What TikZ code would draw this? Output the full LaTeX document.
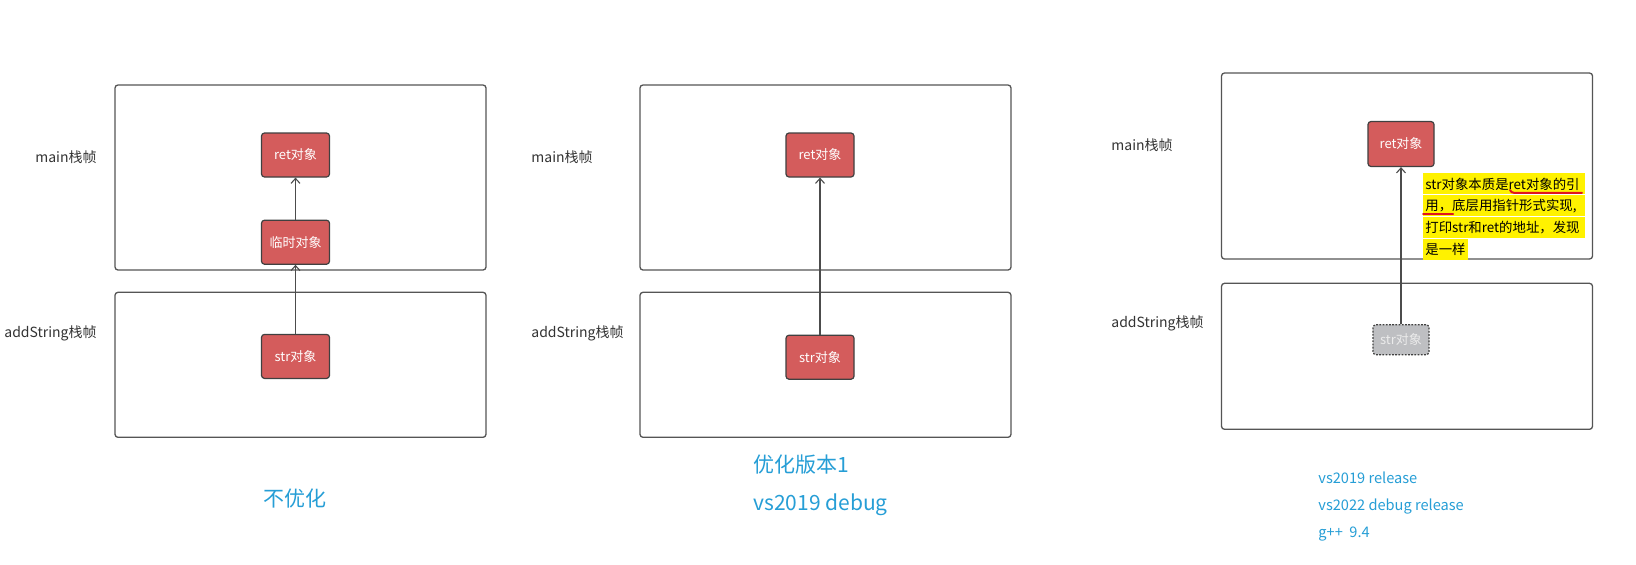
\documentclass[tikz,border=0pt]{standalone}
\usepackage{fontspec}
\setmainfont{Noto Sans CJK SC}
\usetikzlibrary{positioning,arrows.meta}
\definecolor{objred}{RGB}{212,92,92}
\definecolor{frameline}{RGB}{85,85,85}
\definecolor{capblue}{RGB}{38,158,214}
\definecolor{ghost}{RGB}{190,191,194}
\definecolor{markred}{RGB}{225,20,30}
\tikzset{
  frame/.style={draw=frameline, line width=0.65pt, rounded corners=1.5pt, minimum width=185.5pt, inner sep=0pt},
  obj/.style={draw=black!75, fill=objred, line width=0.6pt, rounded corners=1.5pt, minimum width=34pt, minimum height=22pt, inner sep=0pt, text=white, font=\fontsize{6.5}{7}\selectfont},
  ghostobj/.style={obj, fill=ghost, dash pattern=on 0.9pt off 0.7pt, minimum width=28pt, minimum height=15pt, text=white!92!black},
  framelabel/.style={inner sep=0pt, text=black!80, font=\fontsize{7}{8}\selectfont},
  link/.style={draw=black!70, line width=0.55pt, -{Straight Barb[length=2.5pt,width=4.5pt]}},
  hl/.style={fill=yellow, inner xsep=1pt, inner ysep=0pt, minimum height=10.5pt, font=\fontsize{6.7}{7}\selectfont},
  hlfull/.style={hl, text width=79pt, align=left},
  redmark/.style={draw=markred, line width=1pt, line cap=round},
  capbig/.style={inner sep=0pt, text=capblue, font=\fontsize{10.5}{19}\selectfont},
  capsmall/.style={inner sep=0pt, text=capblue, font=\fontsize{7.3}{13.5}\selectfont}
}
\begin{document}
\begin{tikzpicture}[x=0.5pt,y=-0.5pt]
  \useasboundingbox[fill=white] (0,0) rectangle (1636,564);
  % first: no optimisation
  \node[frame, minimum height=92.5pt] (main1) at (300.5,177.5) {};
  \node[frame, minimum height=72.5pt, below=10.5pt of main1] (add1) {};
  \node[framelabel, anchor=east] (lmain1) at (97,157) {main栈帧};
  \node[framelabel, anchor=east] (ladd1) at (97,333) {addString栈帧};
  \node[obj] (ret1) at (295.5,155) {ret对象};
  \node[obj, below=21pt of ret1] (tmp1) {临时对象};
  \node[obj, below=34.5pt of tmp1] (str1) {str对象};
  \draw[link] (str1) -- (tmp1);
  \draw[link] (tmp1) -- (ret1);
  \node[capbig] (cap1) at (295,499) {不优化};

  % second: vs2019 debug
  \node[frame, minimum height=92.5pt] (main2) at (825.5,177.5) {};
  \node[frame, minimum height=72.5pt, below=10.5pt of main2] (add2) {};
  \node[framelabel, anchor=west] (lmain2) at (531,157) {main栈帧};
  \node[framelabel, anchor=west] (ladd2) at (531,333) {addString栈帧};
  \node[obj] (ret2) at (820,155) {ret对象};
  \node[obj, below=78.5pt of ret2] (str2) {str对象};
  \draw[link] (str2) -- (ret2);
  \node[capbig, anchor=west, align=left] (cap2) at (753,485) {优化版本1\\vs2019 debug};

  % third: release builds
  \node[frame, minimum height=93pt] (main3) at (1407,166) {};
  \node[frame, minimum height=73pt, below=11.5pt of main3] (add3) {};
  \node[framelabel, anchor=west] (lmain3) at (1111,145) {main栈帧};
  \node[framelabel, anchor=west] (ladd3) at (1111,323) {addString栈帧};
  \node[obj, minimum width=33pt, minimum height=22.5pt] (ret3) at (1401,144) {ret对象};
  \node[ghostobj, below=78.5pt of ret3] (str3) {str对象};
  \draw[link] (str3) -- (ret3);
  \node[hlfull, anchor=north west] (hl1) at (1423,173) {str对象本质是ret对象的引};
  \node[hlfull, below=0pt of hl1] (hl2) {用，底层用指针形式实现,};
  \node[hlfull, below=0pt of hl2] (hl3) {打印str和ret的地址，发现};
  \node[hl, anchor=north west] (hl4) at (hl3.south west) {是一样};
  \draw[redmark] ([xshift=43.5pt,yshift=2.4pt]hl1.south west) to[out=-70,in=180] ([xshift=45.5pt,yshift=1pt]hl1.south west) -- ([xshift=79.5pt,yshift=1pt]hl1.south west);
  \draw[redmark] ([xshift=0pt,yshift=1.2pt]hl2.south west) -- ([xshift=15pt,yshift=1.2pt]hl2.south west);
  \node[capsmall, anchor=west, align=left] (cap3) at (1318,506) {vs2019 release\\vs2022 debug release\\g++\ \ 9.4};
\end{tikzpicture}
\end{document}
